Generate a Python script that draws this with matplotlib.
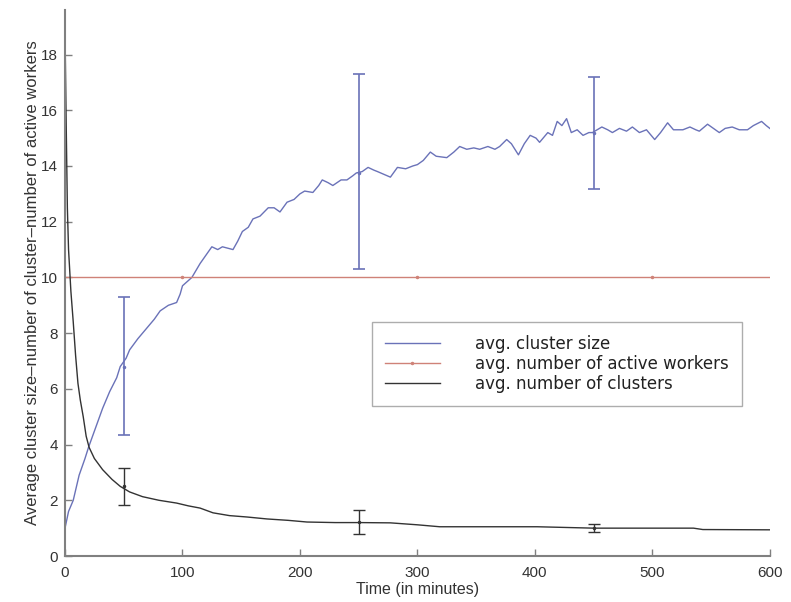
import numpy as np
import matplotlib
matplotlib.use("Agg")
import matplotlib.pyplot as plt

# avg. cluster size
size_t = [0, 3, 7, 12, 17, 20, 26, 32, 38, 44, 47, 52, 55, 62, 70, 76, 81, 88, 95, 98,
          100, 108, 115, 120, 125, 130, 134, 143, 147, 151, 156, 160, 166, 173, 178, 183,
          189, 195, 200, 204, 211, 216, 219, 224, 228, 235, 240, 245, 248, 253, 258, 263,
          266, 277, 283, 290, 296, 300, 305, 311, 316, 325, 331, 336, 342, 348, 353, 360,
          366, 370, 376, 380, 386, 391, 396, 401, 404, 411, 415, 419, 423, 427, 431, 436,
          441, 446, 449, 457, 462, 466, 472, 478, 483, 489, 495, 500, 502, 507, 513, 518,
          526, 532, 537, 540, 547, 552, 557, 562, 568, 574, 581, 586, 593, 597, 600]
size_v = [1.0, 1.6, 2.0, 2.9, 3.5, 3.9, 4.6, 5.3, 5.9, 6.4, 6.8, 7.1, 7.4, 7.8, 8.2, 8.5,
          8.8, 9.0, 9.1, 9.4, 9.7, 10.0, 10.5, 10.8, 11.1, 11.0, 11.1, 11.0, 11.3, 11.65,
          11.8, 12.1, 12.2, 12.5, 12.5, 12.35, 12.7, 12.8, 13.0, 13.1, 13.05, 13.3, 13.5,
          13.4, 13.3, 13.5, 13.5, 13.65, 13.75, 13.8, 13.95, 13.85, 13.8, 13.6, 13.95, 13.9,
          14.0, 14.05, 14.2, 14.5, 14.35, 14.3, 14.5, 14.7, 14.6, 14.65, 14.6, 14.7, 14.6,
          14.7, 14.95, 14.8, 14.4, 14.8, 15.1, 15.0, 14.85, 15.2, 15.1, 15.6, 15.45, 15.7,
          15.2, 15.3, 15.1, 15.2, 15.2, 15.4, 15.3, 15.2, 15.35, 15.25, 15.4, 15.2, 15.3,
          15.05, 14.95, 15.2, 15.55, 15.3, 15.3, 15.4, 15.3, 15.25, 15.5, 15.35, 15.2, 15.35,
          15.4, 15.3, 15.3, 15.45, 15.6, 15.45, 15.35]

# avg. number of clusters
clus_t = [0, 1, 2, 3, 5, 7, 9, 11, 13, 15.5, 18, 20.5, 25, 32, 40, 47, 55, 66, 80, 95,
          105, 115, 126, 140, 155, 172, 190, 206, 230, 250, 277, 300, 319, 360, 402, 450,
          500, 535, 543, 600]
clus_v = [18.8, 15.5, 12.5, 11.0, 9.5, 8.4, 7.2, 6.2, 5.6, 5.0, 4.3, 3.9, 3.5, 3.1, 2.75,
          2.5, 2.3, 2.13, 2.0, 1.9, 1.8, 1.72, 1.55, 1.45, 1.4, 1.33, 1.28, 1.22, 1.2, 1.2,
          1.19, 1.12, 1.05, 1.05, 1.05, 1.0, 1.0, 1.0, 0.95, 0.94]

# avg. number of active workers
work_t = [0, 100, 300, 500, 600]
work_v = [10, 10, 10, 10, 10]

# error bars
err_t = [50, 250, 450]
size_mid = [6.8, 13.75, 15.2]
size_lo = [4.35, 10.3, 13.17]
size_hi = [9.3, 17.3, 17.2]
clus_mid = [2.5, 1.22, 1.0]
clus_lo = [1.83, 0.8, 0.85]
clus_hi = [3.17, 1.65, 1.15]

blue = '#6a72b8'
red = '#cf8278'
black = '#333333'
axis_grey = '#808080'

plt.rcParams['font.family'] = ['Liberation Sans', 'DejaVu Sans']

fig = plt.figure(figsize=(7.91, 6.02), dpi=100)
ax = fig.add_axes([0.0822, 0.0764, 0.891, 0.907])

ax.plot(size_t, size_v, color=blue, lw=1.0, label='avg. cluster size')
ax.plot(work_t, work_v, color=red, lw=1.0, marker='.', markersize=3,
        markevery=[1, 2, 3], label='avg. number of active workers')
ax.plot(clus_t, clus_v, color=black, lw=1.0, label='avg. number of clusters')

size_err = [np.subtract(size_mid, size_lo), np.subtract(size_hi, size_mid)]
clus_err = [np.subtract(clus_mid, clus_lo), np.subtract(clus_hi, clus_mid)]
ax.errorbar(err_t, size_mid, yerr=size_err, fmt='.', color=blue, markersize=3,
            elinewidth=1.2, capsize=4, capthick=1.2)
ax.errorbar(err_t, clus_mid, yerr=clus_err, fmt='.', color=black, markersize=3,
            elinewidth=1.0, capsize=4, capthick=1.0)

ax.set_xlim(0, 600)
ax.set_ylim(0, 19.6)
ax.set_xticks(range(0, 601, 100))
ax.set_yticks(range(0, 19, 2))

for s in ['top', 'right']:
    ax.spines[s].set_visible(False)
for s in ['left', 'bottom']:
    ax.spines[s].set_color(axis_grey)
    ax.spines[s].set_linewidth(1.5)
ax.tick_params(direction='in', length=5, width=1, colors=axis_grey,
               labelcolor='#333333', labelsize=11)
ax.tick_params(axis='x', pad=7)
ax.tick_params(axis='y', pad=5)

ax.set_xlabel('Time (in minutes)', fontsize=11.5, color='#333333')
ax.xaxis.set_label_coords(0.5, -0.048)
ax.set_ylabel('Average cluster size\u2013number of cluster\u2013number of active workers',
              fontsize=12, color='#333333')
ax.yaxis.set_label_coords(-0.036, 0.5)

leg = ax.legend(loc='upper left', bbox_to_anchor=(0.435, 0.4286),
                prop={'family': 'DejaVu Sans', 'size': 12},
                frameon=True, fancybox=False, edgecolor='#999999',
                handlelength=3.3, handletextpad=2.1, borderpad=0.8,
                labelspacing=0.1, borderaxespad=0)
leg.get_frame().set_linewidth(1.0)
for t in leg.get_texts():
    t.set_color('#222222')

fig.savefig('out.png', dpi=100)
